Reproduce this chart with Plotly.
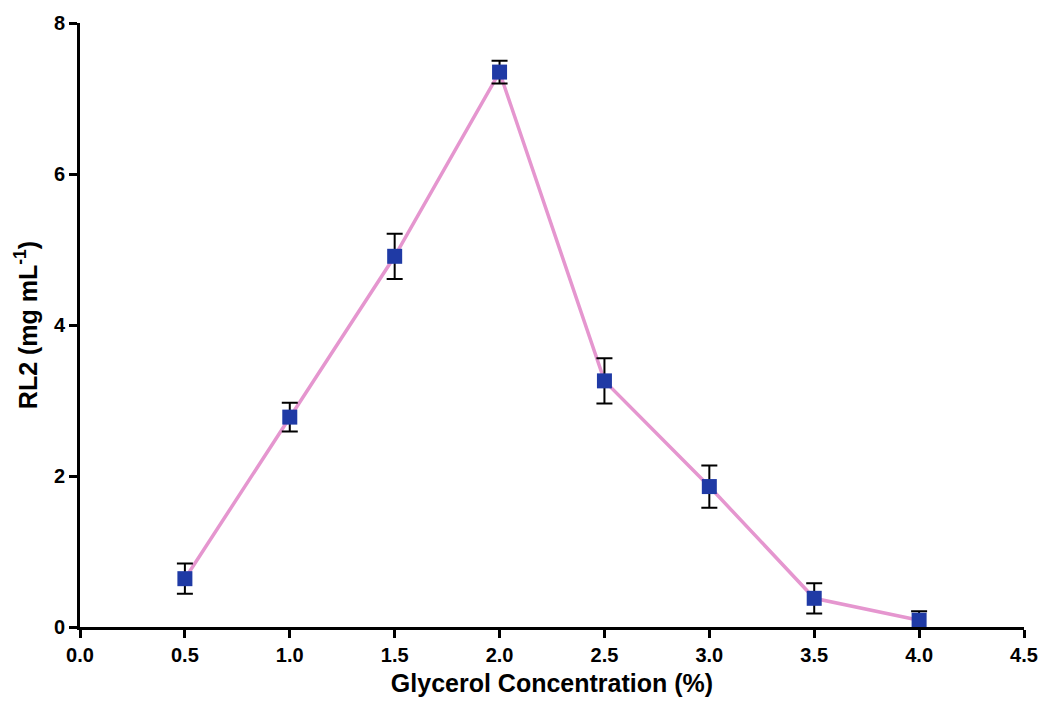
import plotly.graph_objects as go

glycerol = [0.5, 1.0, 1.5, 2.0, 2.5, 3.0, 3.5, 4.0]
rl2 = [0.64, 2.78, 4.91, 7.35, 3.26, 1.86, 0.38, 0.09]
rl2_err = [0.2, 0.19, 0.3, 0.15, 0.3, 0.28, 0.2, 0.12]

x_ticks = [0.0, 0.5, 1.0, 1.5, 2.0, 2.5, 3.0, 3.5, 4.0, 4.5]
x_tick_labels = ["0.0", "0.5", "1.0", "1.5", "2.0", "2.5", "3.0", "3.5", "4.0", "4.5"]
y_ticks = [0, 2, 4, 6, 8]

fig = go.Figure()
fig.add_trace(go.Scatter(
    x=glycerol, y=rl2,
    mode="lines",
    line=dict(color="#e596cf", width=3.5),
    hoverinfo="skip", showlegend=False,
    cliponaxis=False,
))
fig.add_trace(go.Scatter(
    x=glycerol, y=rl2,
    mode="markers",
    marker=dict(symbol="square", size=15, color="#1f3aa5"),
    error_y=dict(type="data", array=rl2_err, visible=True,
                 color="black", thickness=2, width=8),
    showlegend=False,
    cliponaxis=False,
))

font = "Liberation Sans, Arial, sans-serif"
fig.update_layout(
    width=1050, height=706,
    margin=dict(l=80, r=18, t=23, b=76),
    paper_bgcolor="white", plot_bgcolor="white",
    font=dict(family=font, color="black"),
)
fig.update_xaxes(
    range=[0, 4.5], tickvals=x_ticks, ticktext=x_tick_labels,
    showgrid=False, zeroline=False,
    showline=True, linecolor="black", linewidth=3,
    ticks="outside", ticklen=8, tickwidth=3, tickcolor="black",
    tickfont=dict(size=20, family=font, weight="bold"),
    title=dict(text="<b>Glycerol Concentration (%)</b>", font=dict(size=25, family=font), standoff=10),
)
fig.update_yaxes(
    range=[0, 8], tickvals=y_ticks,
    showgrid=False, zeroline=False,
    showline=True, linecolor="black", linewidth=3,
    ticks="outside", ticklen=8, tickwidth=3, tickcolor="black",
    tickfont=dict(size=20, family=font, weight="bold"),
    title=dict(text="<b>RL2 (mg mL<sup>-1</sup>)</b>", font=dict(size=25, family=font), standoff=10),
)

fig.write_html("out.html")
